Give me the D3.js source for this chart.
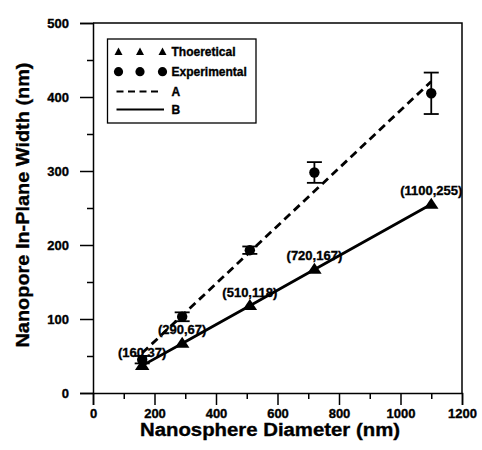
<!DOCTYPE html>
<html><head><meta charset="utf-8">
<script src="https://cdn.jsdelivr.net/npm/d3@7"></script>
<style>body{margin:0;background:#fff;} text{font-family:"Liberation Sans",Arial,sans-serif;font-weight:bold;fill:#000;stroke:#000;stroke-width:0.35px;}</style>
</head><body>
<svg id="c" width="482" height="450"></svg>
<script>
// Data
const diameters = [160, 290, 510, 720, 1100];
const theoretical = [37, 67, 118, 167, 255];
const experimental = [45, 103, 193, 298, 405];
const expError = [5, 6, 5, 14, 28];
const lineAx = [160, 1100];
const lineAy = [54, 421];
const xTicks = [0, 200, 400, 600, 800, 1000, 1200];
const yTicks = [0, 100, 200, 300, 400, 500];
const legendLabels = ["Thoeretical", "Experimental", "A", "B"];
const xTitle = "Nanosphere Diameter (nm)";
const yTitle = "Nanopore In-Plane Width (nm)";

const svg = d3.select("#c");
const L = 93, R = 462, T = 23, B = 393;
const x = d3.scaleLinear().domain([0, 1200]).range([L, R]);
const y = d3.scaleLinear().domain([0, 500]).range([B, T]);

// frame (top and right)
svg.append("path").attr("d", `M${L},${T}H${R}V${B}`).attr("fill", "none").attr("stroke", "#000").attr("stroke-width", 1.5);

// axes
const xAx = svg.append("g").attr("transform", `translate(0,${B})`)
  .call(d3.axisBottom(x).tickValues(xTicks).tickSize(12).tickPadding(4).tickFormat(d3.format("d")));
const xMinor = svg.append("g").attr("transform", `translate(0,${B})`)
  .call(d3.axisBottom(x).tickValues(d3.range(100, 1200, 200)).tickSize(6).tickFormat(""));
const yAx = svg.append("g").attr("transform", `translate(${L},0)`)
  .call(d3.axisLeft(y).tickValues(yTicks).tickSize(13).tickPadding(11).tickFormat(d3.format("d")));
const yMinor = svg.append("g").attr("transform", `translate(${L},0)`)
  .call(d3.axisLeft(y).tickValues(d3.range(50, 500, 100)).tickSize(6).tickFormat(""));
[xAx, xMinor, yAx, yMinor].forEach(g => {
  g.selectAll("path").attr("stroke", "#000").attr("stroke-width", 1.5);
  g.selectAll("line").attr("stroke", "#000").attr("stroke-width", 1.5);
});
xMinor.select(".domain").remove(); yMinor.select(".domain").remove();
[xAx, yAx].forEach(g => g.selectAll("text")
  .style("font-size", "13px").style("font-family", "'Liberation Sans',Arial,sans-serif")
  .style("font-weight", "bold").attr("fill", "#000"));

// axis titles
svg.append("text").attr("x", 270).attr("y", 436).attr("text-anchor", "middle")
  .style("font-size", "18px").attr("textLength", 260).attr("lengthAdjust", "spacingAndGlyphs").text(xTitle);
svg.append("text").attr("transform", "translate(29,205) rotate(-90)").attr("text-anchor", "middle")
  .style("font-size", "19px").attr("textLength", 285).attr("lengthAdjust", "spacingAndGlyphs").text(yTitle);

// line A (dashed)
svg.append("path").datum(d3.zip(lineAx, lineAy))
  .attr("d", d3.line().x(d => x(d[0])).y(d => y(d[1])))
  .attr("fill", "none").attr("stroke", "#000").attr("stroke-width", 2.8).attr("stroke-dasharray", "8,5");
// line B (solid)
svg.append("path").datum(d3.zip(diameters, theoretical))
  .attr("d", d3.line().x(d => x(d[0])).y(d => y(d[1])))
  .attr("fill", "none").attr("stroke", "#000").attr("stroke-width", 2.8);

// error bars
const eb = svg.append("g").attr("stroke", "#000").attr("stroke-width", 1.8);
diameters.forEach((d, i) => {
  const cx = x(d), y1 = y(experimental[i] + expError[i]), y2 = y(experimental[i] - expError[i]);
  eb.append("line").attr("x1", cx).attr("x2", cx).attr("y1", y1).attr("y2", y2);
  eb.append("line").attr("x1", cx - 7.5).attr("x2", cx + 7.5).attr("y1", y1).attr("y2", y1);
  eb.append("line").attr("x1", cx - 7.5).attr("x2", cx + 7.5).attr("y1", y2).attr("y2", y2);
});
// experimental circles
svg.append("g").selectAll("circle").data(diameters).join("circle")
  .attr("cx", d => x(d)).attr("cy", (d, i) => y(experimental[i])).attr("r", 5.2).attr("fill", "#000");
// theoretical triangles (14 wide, 10.5 high)
const triPath = (w, h) => `M0,${-h * 0.6}L${w / 2},${h * 0.4}L${-w / 2},${h * 0.4}Z`;
svg.append("g").selectAll("path").data(diameters).join("path")
  .attr("d", triPath(14.5, 11)).attr("transform", (d, i) => `translate(${x(d)},${y(theoretical[i])})`).attr("fill", "#000");
// labels
svg.append("g").selectAll("text").data(diameters).join("text")
  .attr("x", d => x(d)).attr("y", (d, i) => y(theoretical[i]) - 9).attr("text-anchor", "middle")
  .style("font-size", "13px").text((d, i) => `(${d},${theoretical[i]})`);

// legend
const lg = svg.append("g");
lg.append("rect").attr("x", 107.5).attr("y", 39).attr("width", 148.5).attr("height", 84)
  .attr("fill", "#fff").attr("stroke", "#000").attr("stroke-width", 1.3);
const mx = [118.5, 140, 162.5];
mx.forEach(m => {
  lg.append("path").attr("d", triPath(8, 7.5)).attr("transform", `translate(${m},52)`).attr("fill", "#000");
  lg.append("circle").attr("cx", m).attr("cy", 71.7).attr("r", 4.6).attr("fill", "#000");
});
lg.append("line").attr("x1", 116.5).attr("x2", 162).attr("y1", 91.5).attr("y2", 91.5).attr("stroke", "#000").attr("stroke-width", 2.2).attr("stroke-dasharray", "7,4.5");
lg.append("line").attr("x1", 116.5).attr("x2", 164).attr("y1", 109.5).attr("y2", 109.5).attr("stroke", "#000").attr("stroke-width", 2.2);
const ly = [52, 71.7, 91.5, 109.5];
legendLabels.forEach((t, i) => {
  lg.append("text").attr("x", 171.5).attr("y", ly[i] + 4.3).style("font-size", "12px").text(t);
});
</script>
</body></html>
